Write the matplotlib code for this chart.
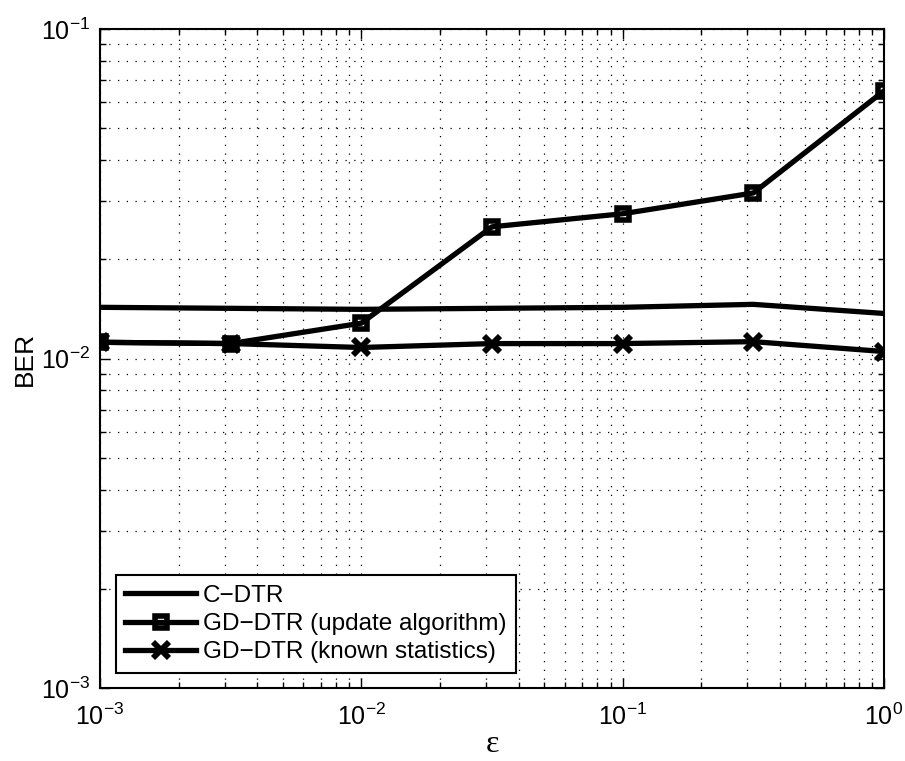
import numpy as np
import matplotlib
matplotlib.use('Agg')
import matplotlib.pyplot as plt

plt.rcParams['font.family'] = ['Liberation Sans', 'DejaVu Sans']
plt.rcParams['mathtext.default'] = 'regular'

# epsilon values (log spaced, half decades)
eps = [1e-3, 10**-2.5, 1e-2, 10**-1.5, 1e-1, 10**-0.5, 1.0]

ber_cdtr = [0.0143, 0.0142, 0.0141, 0.0142, 0.0143, 0.0146, 0.0137]
ber_gd_update = [0.0112, 0.0111, 0.0128, 0.0251, 0.0275, 0.0318, 0.0649]
ber_gd_known = [0.0112, 0.0111, 0.0108, 0.0111, 0.0111, 0.01125, 0.0105]

labels = ['C\u2212DTR', 'GD\u2212DTR (update algorithm)', 'GD\u2212DTR (known statistics)']

fig = plt.figure(figsize=(9.05, 7.61), dpi=100)
ax = fig.add_axes([0.1105, 0.0959, 0.8663, 0.866])

ax.loglog(eps, ber_cdtr, color='k', lw=3.8, label=labels[0])
ax.loglog(eps, ber_gd_update, color='k', lw=3.8, marker='s', ms=8.5,
          mfc='none', mew=4, label=labels[1])
ax.loglog(eps, ber_gd_known, color='k', lw=3.8, marker='x', ms=11,
          mew=4.2, label=labels[2])

ax.set_xlim(1e-3, 1)
ax.set_ylim(1e-3, 1e-1)

ax.grid(True, which='both', linestyle=(0, (1, 6)), color='k', lw=0.9)
ax.tick_params(which='both', direction='in', top=True, right=True,
               labelsize=18, width=1)
ax.tick_params(axis='x', which='major', pad=11)
ax.tick_params(axis='y', which='major', pad=7)
ax.tick_params(which='major', length=7)
ax.tick_params(which='minor', length=4)
for s in ax.spines.values():
    s.set_linewidth(1.5)

ax.set_xlabel('\u03b5', fontsize=23, family='Liberation Serif', labelpad=0)
ax.set_ylabel('BER', fontsize=19, labelpad=3)

leg = ax.legend(loc='lower left', bbox_to_anchor=(0.02, 0.023), borderaxespad=0,
                fontsize=17.5, frameon=True, fancybox=False, framealpha=1,
                edgecolor='k', handlelength=2.9, handletextpad=0.3,
                labelspacing=0.25, borderpad=0.4)
leg.get_frame().set_linewidth(1.5)

fig.savefig('out.png', dpi=100)
